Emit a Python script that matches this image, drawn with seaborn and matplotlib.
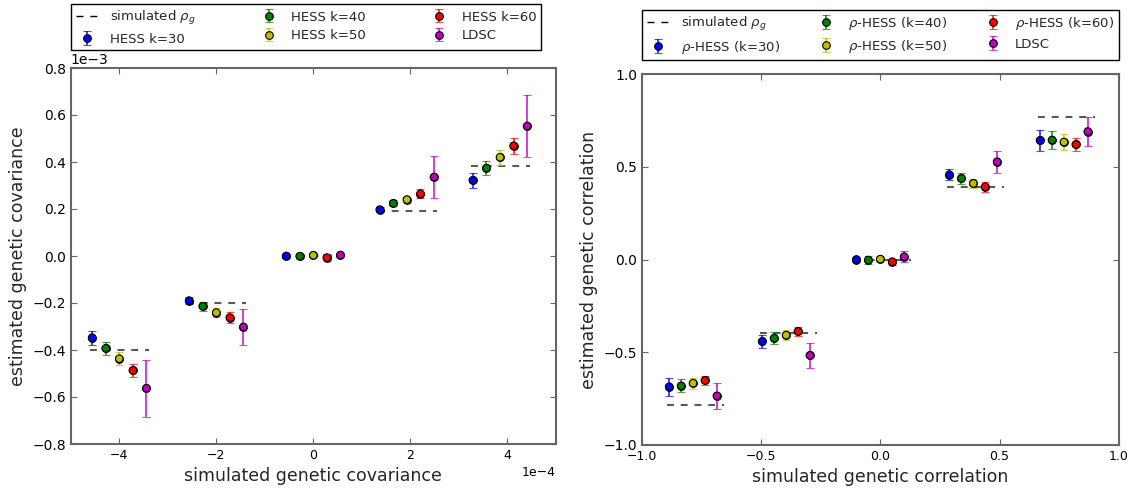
import matplotlib
matplotlib.use("Agg")
import numpy as np
import pandas as pd
import seaborn as sns
import matplotlib.pyplot as plt
from matplotlib.lines import Line2D

# ---------------- data ----------------
methods_cov = ["HESS k=30", "HESS k=40", "HESS k=50", "HESS k=60", "LDSC"]
methods_cor = [r"$\rho$-HESS (k=30)", r"$\rho$-HESS (k=40)", r"$\rho$-HESS (k=50)",
               r"$\rho$-HESS (k=60)", "LDSC"]
sim_label = r"simulated $\rho_g$"

# left panel: genetic covariance
cov_true = [-4.0e-4, -2.0e-4, 0.0, 1.93e-4, 3.85e-4]
cov_k30 = [-3.48e-4, -1.90e-4, 0.00e-4, 1.97e-4, 3.22e-4]
cov_k40 = [-3.93e-4, -2.14e-4, -0.01e-4, 2.24e-4, 3.74e-4]
cov_k50 = [-4.37e-4, -2.41e-4, 0.03e-4, 2.40e-4, 4.20e-4]
cov_k60 = [-4.87e-4, -2.62e-4, -0.07e-4, 2.65e-4, 4.69e-4]
cov_ldsc = [-5.63e-4, -3.02e-4, 0.04e-4, 3.36e-4, 5.53e-4]
cov_k30_err = [0.30e-4, 0.15e-4, 0.08e-4, 0.10e-4, 0.33e-4]
cov_k40_err = [0.28e-4, 0.18e-4, 0.08e-4, 0.13e-4, 0.31e-4]
cov_k50_err = [0.28e-4, 0.18e-4, 0.08e-4, 0.13e-4, 0.32e-4]
cov_k60_err = [0.29e-4, 0.22e-4, 0.15e-4, 0.20e-4, 0.35e-4]
cov_ldsc_err = [1.20e-4, 0.75e-4, 0.08e-4, 0.88e-4, 1.30e-4]

# right panel: genetic correlation
cor_true = [-0.785, -0.395, 0.0, 0.39, 0.77]
cor_k30 = [-0.686, -0.442, 0.000, 0.457, 0.642]
cor_k40 = [-0.681, -0.424, -0.003, 0.437, 0.644]
cor_k50 = [-0.667, -0.408, 0.002, 0.410, 0.633]
cor_k60 = [-0.652, -0.388, -0.012, 0.392, 0.620]
cor_ldsc = [-0.735, -0.517, 0.015, 0.527, 0.690]
cor_k30_err = [0.048, 0.035, 0.015, 0.031, 0.057]
cor_k40_err = [0.035, 0.031, 0.020, 0.030, 0.049]
cor_k50_err = [0.029, 0.026, 0.015, 0.026, 0.043]
cor_k60_err = [0.024, 0.023, 0.015, 0.026, 0.034]
cor_ldsc_err = [0.069, 0.068, 0.030, 0.058, 0.077]

# ---------------- style ----------------
colors = [(0, 0, 1), (0, 0.5, 0), (0.75, 0.75, 0), (1, 0, 0), (0.75, 0, 0.75)]
sns.set_style("ticks")
plt.rcParams.update({
    "font.family": ["DejaVu Sans"],
    "xtick.direction": "in", "ytick.direction": "in",
    "xtick.top": True, "ytick.right": True,
    "xtick.major.size": 4, "ytick.major.size": 4,
    "xtick.color": "0.4", "ytick.color": "0.4",
    "xtick.labelcolor": "black", "ytick.labelcolor": "black",
    "xtick.labelsize": 9, "ytick.labelsize": 10,
    "axes.edgecolor": "0.4", "axes.linewidth": 1.5,
    "axes.labelsize": 12.5,
})

fig = plt.figure(figsize=(11.35, 4.88), dpi=100)
W, H = 1135, 488
axL = fig.add_axes([70.8 / W, (H - 444) / H, 485 / W, 376 / H])
axR = fig.add_axes([641.8 / W, (H - 445) / H, 477 / W, 371 / H])


def draw(ax, truth, vals, errs, labels, offsets, seg):
    truth = np.asarray(truth)
    # dashed simulated-value segments
    rows = []
    for g, t in enumerate(truth):
        rows.append({"x": t + seg[0], "y": t, "g": g})
        rows.append({"x": t + seg[1], "y": t, "g": g})
    df_seg = pd.DataFrame(rows)
    sns.lineplot(data=df_seg, x="x", y="y", units="g", estimator=None,
                 color="0.35", lw=1.5, dashes=False, legend=False, ax=ax,
                 linestyle=(0, (3.3, 3.3)), zorder=1)
    handles = []
    pts = []
    for i, (v, e, lab) in enumerate(zip(vals, errs, labels)):
        x = truth + offsets[i]
        cont = ax.errorbar(x, v, yerr=e, fmt="o", color=colors[i], mec="k", mew=0.8,
                           ms=5.5, capsize=3, elinewidth=1.3, capthick=1.3,
                           label=lab, zorder=2)
        for c in cont[1]:
            c.set_alpha(0.7)
        for c in cont[2]:
            c.set_alpha(0.8)
        handles.append(cont)
        for xx, yy in zip(x, v):
            pts.append({"x": xx, "y": yy, "m": lab})
    df_pts = pd.DataFrame(pts)
    sns.scatterplot(data=df_pts, x="x", y="y", hue="m", palette=colors,
                    hue_order=labels, s=30, edgecolor="k", linewidth=0.8,
                    legend=False, ax=ax, zorder=3)
    sim_handle = Line2D([], [], color="k", linestyle=(0, (5, 5)), lw=1)
    return [sim_handle] + handles


hL = draw(axL, cov_true,
          [cov_k30, cov_k40, cov_k50, cov_k60, cov_ldsc],
          [cov_k30_err, cov_k40_err, cov_k50_err, cov_k60_err, cov_ldsc_err],
          methods_cov, [-0.56e-4, -0.28e-4, 0.0, 0.28e-4, 0.56e-4], (-0.6e-4, 0.62e-4))
hR = draw(axR, cor_true,
          [cor_k30, cor_k40, cor_k50, cor_k60, cor_ldsc],
          [cor_k30_err, cor_k40_err, cor_k50_err, cor_k60_err, cor_ldsc_err],
          methods_cor, [-0.1, -0.05, 0.0, 0.05, 0.1], (-0.11, 0.13))

# axes formatting
axL.set_xlim(-5e-4, 5e-4)
axL.set_ylim(-8e-4, 8e-4)
axL.set_xticks([-4e-4, -2e-4, 0, 2e-4, 4e-4])
axL.set_yticks([-8e-4, -6e-4, -4e-4, -2e-4, 0, 2e-4, 4e-4, 6e-4, 8e-4])
axL.ticklabel_format(axis="x", style="sci", scilimits=(-4, -4))
axL.ticklabel_format(axis="y", style="sci", scilimits=(-3, -3))
axL.yaxis.get_offset_text().set_fontsize(10)
axL.xaxis.get_offset_text().set_fontsize(9)
axL.set_xlabel("simulated genetic covariance", labelpad=4)
axL.set_ylabel("estimated genetic covariance")

axR.set_xlim(-1, 1)
axR.set_ylim(-1, 1)
axR.set_xticks([-1.0, -0.5, 0.0, 0.5, 1.0])
axR.set_yticks([-1.0, -0.5, 0.0, 0.5, 1.0])
axR.set_xlabel("simulated genetic correlation", labelpad=4)
axR.set_ylabel("estimated genetic correlation")

for ax in (axL, axR):
    for s in ax.spines.values():
        s.set_visible(True)

legkw = dict(ncol=3, mode="expand", fontsize=9.5, frameon=True, fancybox=False,
             edgecolor="black", framealpha=1, borderaxespad=0, handlelength=1.8,
             labelspacing=0.45, borderpad=0.35, bbox_transform=fig.transFigure,
             loc="upper left")
legL = axL.legend(hL, [sim_label] + methods_cov,
                  bbox_to_anchor=(71 / W, 0, 470 / W, 1 - 4 / H), **legkw)
legR = axR.legend(hR, [sim_label] + methods_cor,
                  bbox_to_anchor=(642 / W, 0, 477 / W, 1 - 10 / H), **legkw)
for leg in (legL, legR):
    leg.get_frame().set_linewidth(1.0)

fig.savefig("out.png", dpi=100)
